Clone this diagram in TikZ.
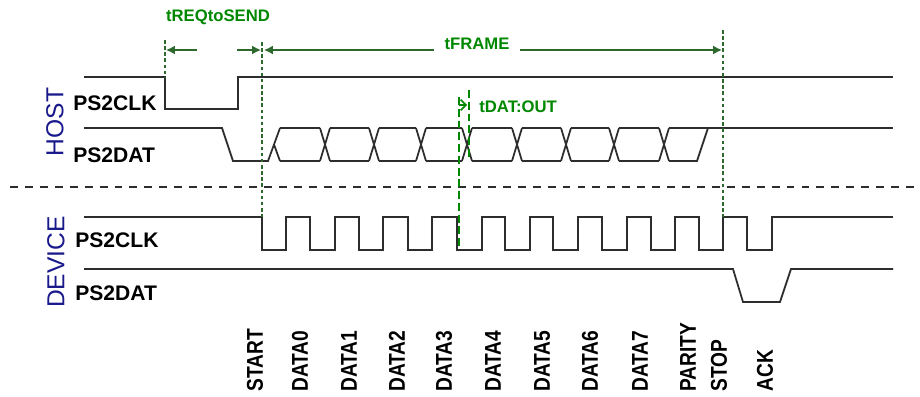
\documentclass[tikz,border=0pt]{standalone}
\usepackage{fontspec}
\setmainfont{Liberation Sans}
\newfontfamily\narrowfont[FakeStretch=0.84]{Liberation Sans}
\usetikzlibrary{arrows, arrows.meta, positioning, calc}
\definecolor{sigdark}{RGB}{45, 45, 45}
\definecolor{hostblue}{RGB}{25, 25, 140}
\definecolor{markgreen}{RGB}{0, 135, 0}
\definecolor{dimgreen}{RGB}{45, 105, 45}

\tikzset{
  sig/.style={draw=sigdark, line width=1pt},
  signame/.style={anchor=west, inner sep=0pt, font=\fontsize{12}{12}\selectfont\bfseries},
  sidename/.style={rotate=90, inner sep=0pt, text=hostblue, font=\fontsize{14}{14}\selectfont},
  bitname/.style={rotate=90, anchor=west, inner sep=0pt, font=\narrowfont\fontsize{13}{13}\selectfont\bfseries},
  timing/.style={inner sep=0pt, text=markgreen, font=\fontsize{9.5}{9.5}\selectfont\bfseries},
  marker/.style={draw=dimgreen, line width=0.6pt, dash pattern=on 2pt off 1.5pt},
  dimline/.style={draw=dimgreen, line width=0.8pt, -{Latex[length=5pt, width=5pt]}},
  outmark/.style={draw=markgreen, line width=1.6pt, dash pattern=on 4.5pt off 2.2pt},
}

\begin{document}
\begin{tikzpicture}[x=0.02cm, y=-0.02cm]
    \useasboundingbox (0,0) rectangle (920,396);

    % Side names
    \node[sidename] (host) at (55,122) {HOST};
    \node[sidename] (device) at (56,262) {DEVICE};

    \node[signame] (hclk) at (73,103) {PS2CLK};
    \node[signame] (hdat) at (73,155) {PS2DAT};
    \node[signame] (dclk) at (75,240) {PS2CLK};
    \node[signame] (ddat) at (75,293) {PS2DAT};

    % Host clock and data
    \draw[sig] (84,77) -- (165,77) -- (165,109) -- (238,109) -- (238,77) -- (893,77);
    \draw[sig] (84,128) -- (222,128) -- (233,161) -- (268,161) -- (280,128);
    \draw[sig] (274,144.5) -- (280,161);
    \foreach \a/\b in {280/320, 330/369, 379/416, 426/462, 472/512, 522/561, 571/609, 619/659} {
        \draw[sig] (\a,128) -- (\b,128);
        \draw[sig] (\a,161) -- (\b,161);
    }
    \foreach \c in {325, 374, 421, 467, 517, 566, 614, 664} {
        \draw[sig] ({\c-5},128) -- ({\c+5},161);
        \draw[sig] ({\c-5},161) -- ({\c+5},128);
    }
    \draw[sig] (669,128) -- (893,128);
    \draw[sig] (669,161) -- (697,161) -- (708,128);

    % Separator
    \draw[draw=sigdark, line width=1pt, dash pattern=on 4.5pt off 4pt] (10,187) -- (920,187);

    % Device clock and data
    \draw[sig] (84,217) -- (262,217)
        \foreach \f/\r in {262/286, 310/335, 359/383, 408/432, 457/482, 505/530, 553/578, 602/627, 651/675, 699/723, 747/772} {
            -- (\f,217) -- (\f,250) -- (\r,250) -- (\r,217)
        } -- (893,217);
    \draw[sig] (84,269) -- (733,269) -- (743,302) -- (780,302) -- (791,269) -- (893,269);

    % Timing markers
    \draw[marker] (165,40) -- (165,77);
    \draw[marker] (262,42) -- (262,217);
    \draw[marker] (723,30) -- (723,217);

    \node[timing] (treq) at (218,17) {tREQtoSEND};
    \node[timing] (tframe) at (477,44) {tFRAME};
    \coordinate (reqL) at (166,50);
    \coordinate (reqLa) at (197,50);
    \coordinate (reqR) at (261,50);
    \coordinate (reqRa) at (237,50);
    \coordinate (frL) at (264,50);
    \coordinate (frR) at (722,50);
    \draw[dimline] (reqLa) -- (reqL);
    \draw[dimline] (reqRa) -- (reqR);
    \draw[dimline] ([xshift=-0.2cm]tframe.west |- frL) -- (frL);
    \draw[dimline] ([xshift=0.2cm]tframe.east |- frR) -- (frR);

    % Data out delay
    \draw[outmark] (459,97) -- (459,250);
    \draw[outmark] (469,90) -- (469,157);
    \coordinate (outL) at (459,105);
    \coordinate (outR) at (467,105);
    \draw[markgreen, line width=0.9pt, -{Straight Barb[length=3pt, width=6pt]}] (outL) -- (outR);
    \node[timing, anchor=west] (tdat) at (479,107) {tDAT:OUT};

    % Bit names
    \foreach \x/\name in {255/START, 300/DATA0, 349/DATA1, 397/DATA2, 444/DATA3, 493/DATA4, 542/DATA5, 590/DATA6, 640/DATA7, 688/PARITY, 719/STOP, 765/ACK}
        \node[bitname] (bit\name) at (\x,392) {\name};
\end{tikzpicture}
\end{document}
